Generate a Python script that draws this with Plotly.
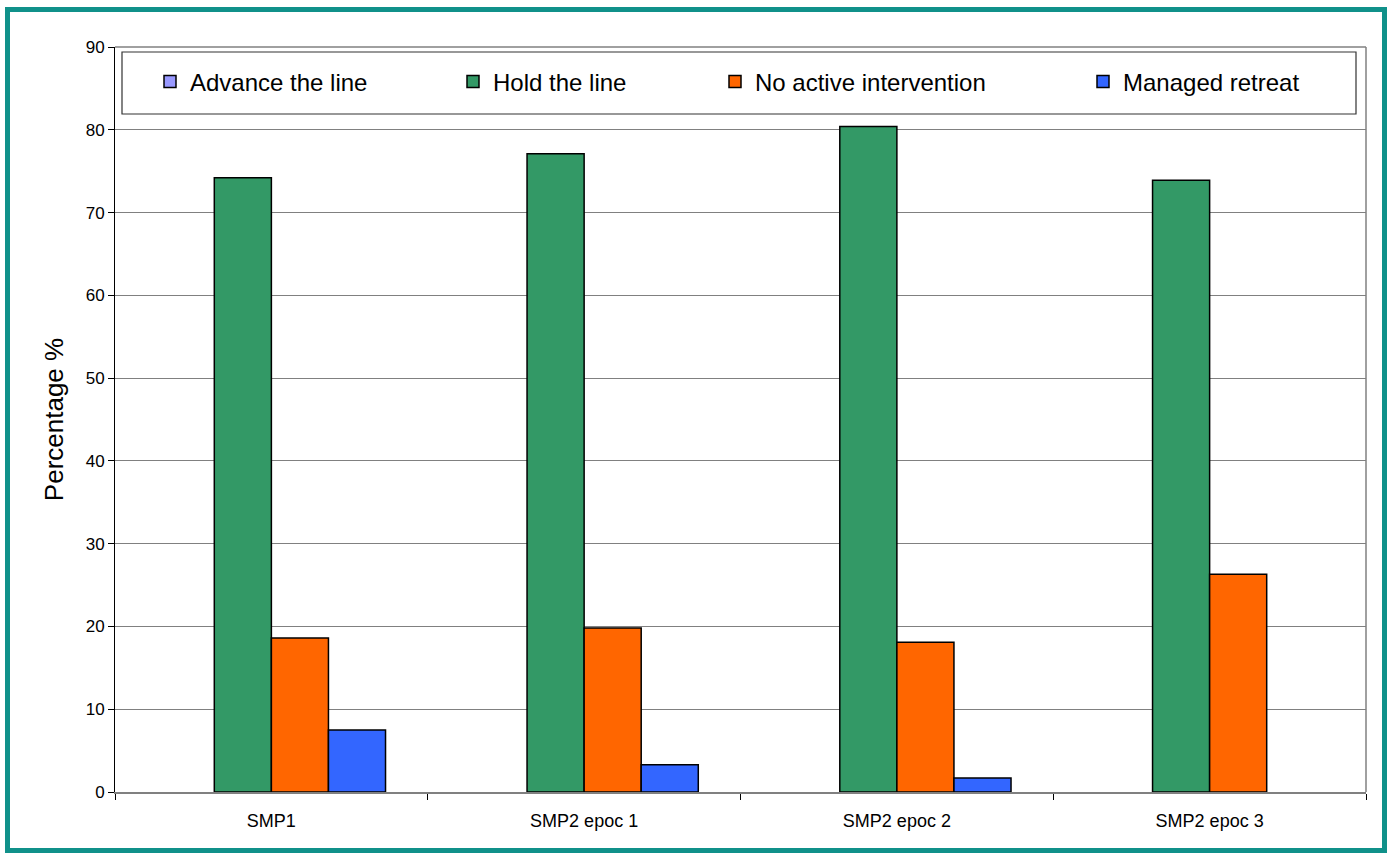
import plotly.graph_objects as go

categories = ["SMP1", "SMP2 epoc 1", "SMP2 epoc 2", "SMP2 epoc 3"]
advance = [0, 0, 0, 0]
hold = [74.2, 77.1, 80.4, 73.9]
no_active = [18.6, 19.8, 18.1, 26.3]
managed = [7.5, 3.3, 1.7, 0]
y_ticks = [0, 10, 20, 30, 40, 50, 60, 70, 80, 90]

W, H = 1389, 855
L, R, T, B = 115, 1366, 47, 792

def px(x):
    return (x - L) / (R - L)

def py(y):
    return (B - y) / (B - T)

series = [
    ("Advance the line", advance, "#9999FF", "legend", 150),
    ("Hold the line", hold, "#339966", "legend2", 453),
    ("No active intervention", no_active, "#FF6600", "legend3", 715),
    ("Managed retreat", managed, "#3366FF", "legend4", 1083),
]

fig = go.Figure()
legends = {}
for name, vals, col, lg, lx in series:
    # zero-height bars are not drawn (no visible outline in the original)
    shown = [v if v > 0 else None for v in vals]
    fig.add_trace(go.Bar(
        x=categories, y=shown, name=name, legend=lg,
        marker=dict(color=col, line=dict(color="#000000", width=1.5)),
    ))
    legends[lg] = dict(
        orientation="h", x=px(lx), xanchor="left", y=py(82), yanchor="middle",
        font=dict(size=24, family="Liberation Sans"),
        bgcolor="rgba(0,0,0,0)", borderwidth=0,
    )

fig.update_layout(
    width=W, height=H,
    margin=dict(l=L, r=W - R, t=T, b=H - B),
    paper_bgcolor="white", plot_bgcolor="white",
    barmode="group", bargap=0.27, bargroupgap=0,
    font=dict(family="Liberation Sans", color="#000000"),
    showlegend=True,
    xaxis=dict(
        showline=True, linecolor="#808080", linewidth=1.5,
        ticks="outside", tickson="boundaries", ticklen=6, tickcolor="#000000",
        tickfont=dict(size=18), showgrid=False, ticklabelstandoff=12,
    ),
    yaxis=dict(
        range=[0, 90], tickvals=y_ticks, showline=True, linecolor="#000000", linewidth=1,
        ticks="outside", ticklen=6, tickcolor="#000000",
        tickfont=dict(size=17), showgrid=True, gridcolor="#808080", gridwidth=1,
        zeroline=False,
        title=dict(text="Percentage %", font=dict(size=26), standoff=14),
    ),
    **legends,
)

# right border of plot area
fig.add_shape(type="line", xref="paper", yref="paper", x0=1, x1=1, y0=0, y1=1,
              line=dict(color="#808080", width=1.5))
# top border
fig.add_shape(type="line", xref="paper", yref="paper", x0=0, x1=1, y0=1, y1=1,
              line=dict(color="#808080", width=1.5))
# legend box
fig.add_shape(type="rect", xref="paper", yref="paper",
              x0=px(122), x1=px(1356), y0=py(114), y1=py(52),
              line=dict(color="#333333", width=1.2), fillcolor="white", layer="above")
# outer teal frame
fig.add_shape(type="rect", xref="paper", yref="paper",
              x0=px(7.5), x1=px(1384.5), y0=py(850.5), y1=py(9.5),
              line=dict(color="#10918A", width=5))

fig.write_html("out.html")
